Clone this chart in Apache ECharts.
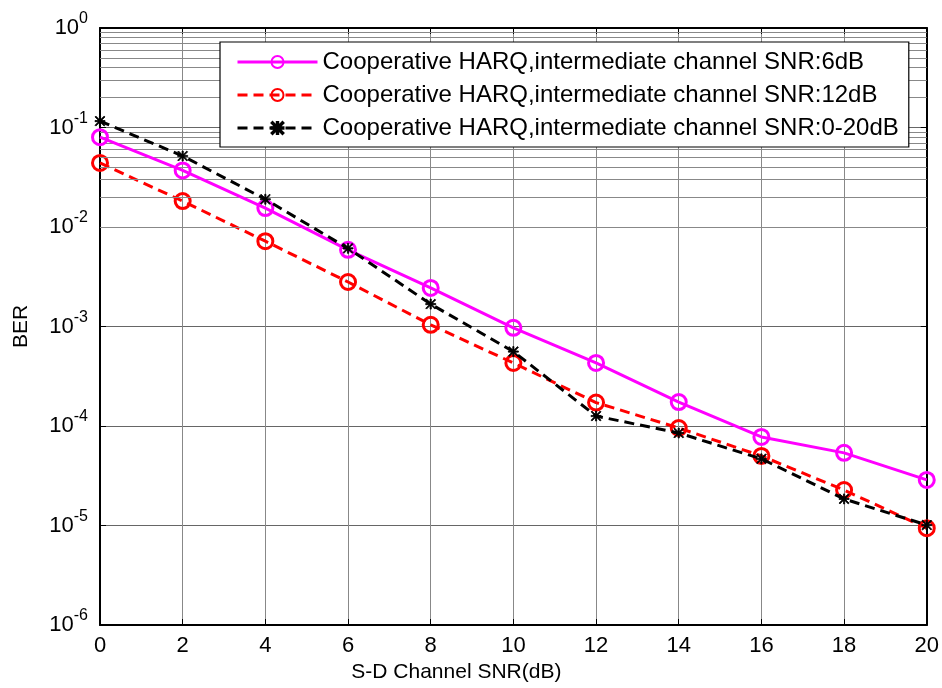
<!DOCTYPE html>
<html>
<head>
<meta charset="utf-8">
<script src="https://cdn.jsdelivr.net/npm/echarts@6/dist/echarts.min.js"></script>
<style>html,body{margin:0;padding:0;background:#fff;}#c{width:942px;height:688px;}</style>
</head>
<body>
<div id="c"></div>
<script>
var snr = [0, 2, 4, 6, 8, 10, 12, 14, 16, 18, 20];
var berSnr6 = [0.080, 0.037, 0.0155, 0.0059, 0.00244, 0.00097, 0.00043, 0.000174, 0.0000776, 0.0000537, 0.0000287];
var berSnr12 = [0.044, 0.0182, 0.0072, 0.0028, 0.00104, 0.00043, 0.000172, 0.0000955, 0.00005, 0.0000227, 0.0000094];
var berSnr0to20 = [0.116, 0.0517, 0.019, 0.0061, 0.00168, 0.00056, 0.000126, 0.000085, 0.0000468, 0.0000185, 0.0000101];
var seriesNames = [
  'Cooperative HARQ,intermediate channel SNR:6dB',
  'Cooperative HARQ,intermediate channel SNR:12dB',
  'Cooperative HARQ,intermediate channel SNR:0-20dB'
];
var minorGridValues = [];
for (var e = -6; e < 0; e++) {
  for (var m = 2; m <= 9; m++) minorGridValues.push(+(m * Math.pow(10, e)).toPrecision(3));
}
var asterisk = 'path://M4.4,0L5.6,0L5.6,10L4.4,10Z M0,4.4L10,4.4L10,5.6L0,5.6Z M0.85,0L10,9.15L9.15,10L0,0.85Z M9.15,0L10,0.85L0.85,10L0,9.15Z';

function pairs(ys) { return snr.map(function (x, i) { return [x, ys[i]]; }); }

var FONT = 'Arial, "Liberation Sans", sans-serif';
var chart = echarts.init(document.getElementById('c'), null, {renderer: 'canvas'});
var option = {
  backgroundColor: '#fff',
  animation: false,
  grid: {left: 100, right: 15, top: 28, bottom: 63, containLabel: false},
  legend: {
    data: seriesNames,
    orient: 'vertical',
    left: 220,
    top: 42,
    z: 50,
    padding: [8, 10, 7, 16],
    itemGap: 9,
    itemWidth: 80,
    itemHeight: 15,
    backgroundColor: '#fff',
    borderColor: '#000',
    borderWidth: 1.2,
    borderRadius: 0,
    lineStyle: {width: 3},
    textStyle: {fontFamily: FONT, fontSize: 24, color: '#000'}
  },
  xAxis: [{
    type: 'value', min: 0, max: 20, interval: 2,
    name: 'S-D Channel SNR(dB)', nameLocation: 'middle', nameGap: 30,
    nameTextStyle: {fontFamily: FONT, fontSize: 21, color: '#000', padding: [0, 114, 0, 0]},
    axisLine: {show: true, onZero: false, lineStyle: {color: '#000', width: 2}},
    axisTick: {show: true, inside: true, length: 6, lineStyle: {color: '#000', width: 1}},
    axisLabel: {fontFamily: FONT, fontSize: 22, color: '#000', margin: 10},
    splitLine: {show: true, lineStyle: {color: '#888', width: 1}}
  }, {
    type: 'value', min: 0, max: 20, interval: 2, position: 'top',
    axisLine: {show: true, onZero: false, lineStyle: {color: '#000', width: 2}},
    axisTick: {show: true, inside: true, length: 6, lineStyle: {color: '#000', width: 1}},
    axisLabel: {show: false},
    splitLine: {show: false}
  }],
  yAxis: [{
    type: 'log', logBase: 10, min: 1e-6, max: 1, splitNumber: 6,
    name: 'BER', nameLocation: 'middle', nameGap: 68, nameRotate: 90,
    nameTextStyle: {fontFamily: FONT, fontSize: 21, color: '#000'},
    axisLine: {show: true, onZero: false, lineStyle: {color: '#000', width: 2}},
    axisTick: {show: true, inside: true, length: 6, lineStyle: {color: '#000', width: 1}},
    axisLabel: {
      margin: 12,
      formatter: function (v) {
        var ex = Math.round(Math.log10(v));
        return '{b|10}{s|' + ex + '}';
      },
      rich: {
        b: {fontFamily: FONT, fontSize: 22, color: '#000', verticalAlign: 'bottom', lineHeight: 22},
        s: {fontFamily: FONT, fontSize: 16, color: '#000', verticalAlign: 'bottom', lineHeight: 16, padding: [0, 0, 12, 0]}
      }
    },
    splitLine: {show: true, lineStyle: {color: '#666', width: 1}}
  }, {
    type: 'log', logBase: 10, min: 1e-6, max: 1, splitNumber: 6, position: 'right',
    axisLine: {show: true, onZero: false, lineStyle: {color: '#000', width: 2}},
    axisTick: {show: true, inside: true, length: 6, lineStyle: {color: '#000', width: 1}},
    axisLabel: {show: false},
    splitLine: {show: false}
  }],
  series: [{
    name: 'minor-grid', type: 'line', data: [], z: 1, silent: true,
    markLine: {
      silent: true, symbol: ['none', 'none'], label: {show: false},
      lineStyle: {color: '#888', width: 1, type: 'solid'},
      emphasis: {disabled: true},
      data: minorGridValues.map(function (v) { return {yAxis: v}; })
    }
  }, {
    name: seriesNames[0], type: 'line', data: pairs(berSnr6), z: 5,
    color: '#ff00ff',
    symbol: 'circle', symbolSize: 15,
    lineStyle: {color: '#ff00ff', width: 3, type: 'solid'},
    itemStyle: {color: 'rgba(255,255,255,0)', borderColor: '#ff00ff', borderWidth: 3}
  }, {
    name: seriesNames[1], type: 'line', data: pairs(berSnr12), z: 4,
    color: '#ff0000',
    symbol: 'circle', symbolSize: 15,
    lineStyle: {color: '#ff0000', width: 3, type: [10, 6]},
    itemStyle: {color: 'rgba(255,255,255,0)', borderColor: '#ff0000', borderWidth: 3}
  }, {
    name: seriesNames[2], type: 'line', data: pairs(berSnr0to20), z: 6,
    color: '#000',
    symbol: asterisk, symbolSize: 10,
    lineStyle: {color: '#000', width: 3, type: [10, 6]},
    itemStyle: {color: '#000', borderColor: '#000', borderWidth: 0.8}
  }]
};
chart.setOption(option);
</script>
</body>
</html>
